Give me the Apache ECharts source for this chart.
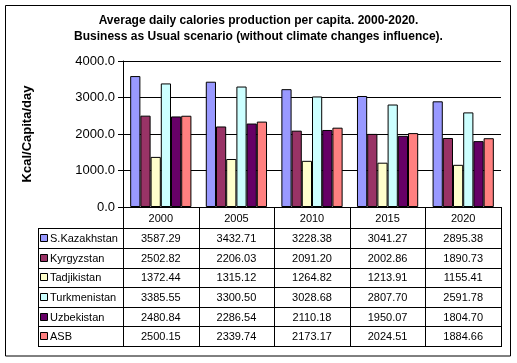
<!DOCTYPE html>
<html>
<head>
<meta charset="utf-8">
<script src="https://cdn.jsdelivr.net/npm/echarts@6/dist/echarts.min.js"></script>
<style>html,body{margin:0;padding:0;background:#fff;}#c{width:517px;height:363px;}</style>
</head>
<body>
<div id="c"></div>
<script>
var years = ['2000', '2005', '2010', '2015', '2020'];
var seriesNames = ['S.Kazakhstan', 'Kyrgyzstan', 'Tadjikistan', 'Turkmenistan', 'Uzbekistan', 'ASB'];
var sKazakhstan = [3587.29, 3432.71, 3228.38, 3041.27, 2895.38];
var kyrgyzstan = [2502.82, 2206.03, 2091.20, 2002.86, 1890.73];
var tadjikistan = [1372.44, 1315.12, 1264.82, 1213.91, 1155.41];
var turkmenistan = [3385.55, 3300.50, 3028.68, 2807.70, 2591.78];
var uzbekistan = [2480.84, 2286.54, 2110.18, 1950.07, 1804.70];
var asb = [2500.15, 2339.74, 2173.17, 2024.51, 1884.66];
var yTicks = [0, 1000, 2000, 3000, 4000];

var values = [sKazakhstan, kyrgyzstan, tadjikistan, turkmenistan, uzbekistan, asb];
var colors = ['#9999FF', '#993366', '#FFFFCC', '#CCFFFF', '#660066', '#FF8080'];
var FONT = 'Liberation Sans, Arial, sans-serif';

// layout
var W = 517, H = 363;
var gL = 123, gR = 501, gT = 61, gB = 207;
var tabL = 38, headB = 228.3, rowH = 19.6;

var chart = echarts.init(document.getElementById('c'), null, {renderer: 'canvas'});

var series = seriesNames.map(function (n, i) {
  return {
    name: n, type: 'bar', data: values[i],
    barGap: '0%', barCategoryGap: '19%',
    itemStyle: {color: colors[i], borderColor: '#000', borderWidth: 1},
    emphasis: {disabled: true}, animation: false
  };
});

var g = [];
function line(x1, y1, x2, y2) {
  g.push({type: 'line', silent: true, shape: {x1: x1, y1: y1, x2: x2, y2: y2},
    style: {stroke: '#000', lineWidth: 1}});
}
function txt(x, y, s, align) {
  g.push({type: 'text', silent: true, x: x, y: y,
    style: {text: s, fill: '#000', font: '11px ' + FONT, align: align || 'center', verticalAlign: 'middle'}});
}
// outer border
g.push({type: 'rect', silent: true, shape: {x: 5.5, y: 5.5, width: 505, height: 350.5},
  style: {fill: 'none', stroke: '#000', lineWidth: 1}, z: -1});

var catW = (gR - gL) / years.length;
var tabB = headB + rowH * seriesNames.length;
// vertical lines
line(Math.round(tabL) + 0.5, Math.round(headB), Math.round(tabL) + 0.5, Math.round(tabB));
for (var c = 0; c <= years.length; c++) {
  var x = Math.round(gL + c * catW) + 0.5;
  if (c === years.length) x = gR + 0.5;
  line(x, gB, x, Math.round(tabB));
}
// horizontal lines
line(tabL, Math.round(headB) + 0.5, gR + 1, Math.round(headB) + 0.5);
for (var r = 1; r <= seriesNames.length; r++) {
  var y = Math.round(headB + r * rowH) + 0.5;
  line(tabL, y, gR + 1, y);
}
// header labels
years.forEach(function (yv, c) {
  txt(gL + (c + 0.5) * catW, (gB + headB) / 2 + 1, yv);
});
// rows
seriesNames.forEach(function (n, r) {
  var cy = headB + (r + 0.5) * rowH + 1;
  g.push({type: 'rect', silent: true, shape: {x: 40.5, y: Math.round(cy) - 4.5, width: 7, height: 7},
    style: {fill: colors[r], stroke: '#000', lineWidth: 1}});
  txt(50, cy, n, 'left');
  values[r].forEach(function (v, c) {
    txt(gL + (c + 0.5) * catW, cy, v.toFixed(2));
  });
});

chart.setOption({
  animation: false,
  backgroundColor: '#fff',
  title: {
    text: 'Average daily calories production per capita. 2000-2020.\nBusiness as Usual scenario (without climate changes influence).',
    left: 'center', top: 8,
    textStyle: {fontFamily: FONT, fontSize: 12, fontWeight: 'bold', color: '#000', lineHeight: 16}
  },
  grid: {left: gL, right: W - gR, top: gT, bottom: H - gB, containLabel: false},
  xAxis: {
    type: 'category', data: years,
    axisLine: {lineStyle: {color: '#000'}},
    axisTick: {show: false}, axisLabel: {show: false}, splitLine: {show: false}
  },
  yAxis: {
    type: 'value', min: yTicks[0], max: yTicks[yTicks.length - 1], interval: 1000,
    axisLine: {show: true, lineStyle: {color: '#000'}},
    axisTick: {show: true, length: 5, lineStyle: {color: '#000'}},
    axisLabel: {color: '#000', fontFamily: FONT, fontSize: 13, margin: 8,
      formatter: function (v) { return v.toFixed(1); }},
    splitLine: {show: true, lineStyle: {color: '#000', width: 1}},
    name: 'Kcal/Capita/day', nameLocation: 'middle', nameGap: 89, nameRotate: 90,
    nameTextStyle: {color: '#000', fontFamily: FONT, fontSize: 13, fontWeight: 'bold'}
  },
  series: series,
  graphic: {elements: g}
});
</script>
</body>
</html>
